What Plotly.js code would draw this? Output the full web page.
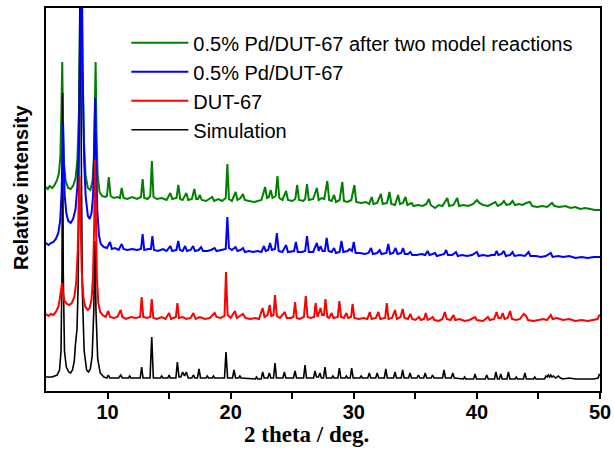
<!DOCTYPE html>
<html>
<head>
<meta charset="utf-8">
<script src="https://cdn.plot.ly/plotly-3.0.1.min.js"></script>
<style>html,body{margin:0;padding:0;background:#fff;}#chart{width:614px;height:449px;}</style>
</head>
<body>
<div id="chart"></div>
<script>
// Series names (legend labels)
const seriesNames = ["0.5% Pd/DUT-67 after two model reactions", "0.5% Pd/DUT-67", "DUT-67", "Simulation"];
const xTicks = [10, 20, 30, 40, 50];

// Simulation pattern [2theta, intensity] (offset baseline ~13)
const simulation = [[5.0,14],[5.5,14],[5.9,16],[6.1,21],[6.22,40],[6.3,120],[6.35,298],[6.4,120],[6.5,40],[6.65,24],[6.85,19],[7.0,18],[7.15,21],[7.3,30],[7.38,45],[7.44,53],[7.52,62],[7.62,110],[7.7,250],[7.78,460],[7.86,250],[7.95,100],[8.1,40],[8.3,21],[8.45,19],[8.6,22],[8.75,35],[8.88,80],[8.97,150],[9.06,80],[9.2,32],[9.4,18],[9.7,14],[9.95,13],[10.06,16],[10.18,13],[10.9,13],[11.07,16],[11.2,13],[11.7,13],[11.8,15],[11.9,13],[12.65,13],[12.77,24],[12.88,13],[13.45,13],[13.59,54],[13.72,13],[14.3,13],[14.4,15],[14.5,13],[14.9,13],[15.0,16],[15.1,13],[15.55,13],[15.67,29],[15.8,14],[15.95,14],[16.1,19],[16.25,15],[16.4,19],[16.55,13],[16.85,13],[16.97,16],[17.1,13],[17.3,13],[17.43,22],[17.55,13],[18.0,13],[18.1,15],[18.2,13],[18.5,13],[18.6,15],[18.7,13],[19.5,13],[19.62,39],[19.75,13],[20.15,13],[20.27,21],[20.4,13],[20.65,13],[20.75,15],[20.85,13],[22.0,12],[22.1,14],[22.2,12],[22.48,12],[22.6,19],[22.72,13],[23.02,13],[23.14,18],[23.26,13],[23.48,13],[23.6,28],[23.72,13],[24.24,13],[24.36,19],[24.48,13],[25.1,13],[25.23,20],[25.35,13],[25.92,13],[26.04,26],[26.16,13],[26.73,13],[26.85,20],[26.97,14],[27.13,14],[27.25,18],[27.37,13],[27.54,13],[27.66,24],[27.78,13],[28.2,13],[28.3,15],[28.4,13],[28.71,13],[28.83,23],[28.95,13],[29.3,13],[29.4,15],[29.5,13],[29.71,13],[29.83,23],[29.95,13],[30.5,13],[30.6,15],[30.7,13],[31.14,13],[31.26,18],[31.38,13],[31.78,13],[31.9,18],[32.02,13],[32.48,13],[32.6,22],[32.72,13],[33.23,13],[33.35,19],[33.47,13],[33.85,13],[33.97,21],[34.09,13],[34.45,13],[34.57,18],[34.69,13],[35.13,13],[35.25,16],[35.37,13],[35.68,13],[35.8,18],[35.92,13],[36.28,13],[36.4,16],[36.52,13],[37.21,13],[37.33,21],[37.45,13],[37.92,13],[38.04,18],[38.16,13],[38.9,12],[39.0,14],[39.1,12],[39.73,12],[39.85,17],[39.97,12],[40.68,12],[40.8,16],[40.92,12],[41.43,12],[41.55,19],[41.67,12],[41.82,12],[41.94,17],[42.06,12],[42.44,12],[42.56,19],[42.68,12],[43.1,12],[43.2,14],[43.3,12],[43.78,12],[43.9,18],[44.02,12],[44.6,12],[44.7,14],[44.8,12],[45.5,12],[45.6,15],[45.7,14],[45.8,16],[45.9,14],[46.0,16],[46.1,14],[46.2,15],[46.4,13],[46.6,15],[46.8,13],[47.0,12],[47.5,13],[48.0,12],[48.5,12],[49.0,12],[49.5,12],[49.85,13],[49.95,17],[50,15]];

// DUT-67 pattern (offset baseline ~72)
const dut67 = [[5.0,77],[5.2,75],[5.4,77],[5.6,76],[5.8,79],[6.0,84],[6.12,92],[6.22,104],[6.3,108],[6.38,98],[6.5,90],[6.7,87],[6.9,86],[7.1,88],[7.3,94],[7.45,108],[7.58,140],[7.66,185],[7.72,215],[7.8,175],[7.9,120],[8.05,92],[8.2,84],[8.4,81],[8.55,83],[8.7,92],[8.82,115],[8.92,170],[8.98,231],[9.05,180],[9.13,115],[9.25,88],[9.4,79],[9.6,76],[9.85,74],[10.06,80],[10.2,74],[10.5,73],[10.8,74],[11.07,81],[11.2,74],[11.5,72],[11.9,74],[12.3,73],[12.65,74],[12.77,94],[12.9,74],[13.2,73],[13.47,74],[13.59,92],[13.72,73],[14.0,72],[14.4,74],[14.7,72],[15.0,78],[15.15,72],[15.55,74],[15.67,88],[15.8,73],[16.1,74],[16.4,72],[16.75,73],[16.97,78],[17.15,72],[17.5,74],[17.9,72],[18.3,73],[18.7,78],[18.85,74],[19.2,73],[19.5,75],[19.62,119],[19.75,76],[20.0,73],[20.35,80],[20.5,73],[20.75,75],[21.0,77],[21.2,73],[21.6,72],[22.0,73],[22.3,72],[22.6,83],[22.75,74],[23.0,76],[23.17,86],[23.3,75],[23.48,76],[23.6,96],[23.75,75],[24.0,73],[24.4,79],[24.55,73],[24.9,73],[25.1,74],[25.23,89],[25.36,73],[25.6,72],[25.95,74],[26.1,95],[26.25,74],[26.5,73],[26.78,74],[26.9,88],[27.05,74],[27.3,83],[27.42,76],[27.58,76],[27.7,92],[27.85,74],[28.0,73],[28.2,78],[28.35,73],[28.7,74],[28.83,90],[28.97,74],[29.2,73],[29.4,78],[29.55,73],[29.78,74],[29.9,87],[30.05,73],[30.4,72],[30.8,73],[31.1,72],[31.3,79],[31.45,72],[31.8,73],[32.0,79],[32.15,72],[32.55,73],[32.68,88],[32.82,72],[33.1,73],[33.35,81],[33.5,72],[33.8,74],[33.97,82],[34.12,73],[34.4,72],[34.6,77],[34.75,72],[35.0,71],[35.3,74],[35.45,71],[35.7,72],[35.85,78],[36.0,71],[36.2,72],[36.4,74],[36.55,71],[36.9,70],[37.2,72],[37.4,79],[37.55,72],[37.85,71],[38.1,76],[38.25,71],[38.6,72],[39.0,70],[39.4,71],[39.85,74],[40.0,71],[40.5,70],[40.9,74],[41.05,71],[41.4,72],[41.6,79],[41.75,73],[41.95,73],[42.1,78],[42.25,72],[42.5,73],[42.7,80],[42.85,72],[43.2,71],[43.5,72],[43.8,77],[44.0,75],[44.15,71],[44.6,70],[45.0,71],[45.4,72],[45.7,71],[46.0,76],[46.15,72],[46.5,73],[47.0,71],[47.5,72],[48.0,70],[48.5,71],[49.0,70],[49.5,71],[49.8,72],[49.95,76],[50,75]];

// 0.5% Pd/DUT-67 pattern (offset baseline ~140)
const pdDut67 = [[5.0,148],[5.2,146],[5.4,148],[5.6,149],[5.8,152],[6.0,158],[6.15,170],[6.27,200],[6.33,240],[6.38,268],[6.44,230],[6.52,195],[6.65,178],[6.8,170],[7.0,168],[7.2,172],[7.4,182],[7.55,205],[7.68,250],[7.78,320],[7.88,470],[7.98,320],[8.1,230],[8.22,195],[8.4,175],[8.55,172],[8.7,178],[8.82,195],[8.92,240],[9.0,293],[9.07,230],[9.17,180],[9.3,156],[9.45,147],[9.7,144],[9.95,143],[10.2,149],[10.35,142],[10.6,143],[10.9,141],[11.15,147],[11.3,142],[11.6,141],[12.0,142],[12.4,141],[12.72,142],[12.85,157],[12.98,141],[13.3,142],[13.52,142],[13.64,155],[13.77,141],[14.1,140],[14.5,142],[14.8,140],[15.1,145],[15.25,140],[15.6,141],[15.74,150],[15.88,141],[16.1,140],[16.3,145],[16.45,140],[16.75,141],[16.95,145],[17.1,140],[17.4,141],[17.6,144],[17.75,140],[18.1,140],[18.4,141],[18.7,143],[18.85,140],[19.2,141],[19.6,142],[19.73,174],[19.86,143],[20.1,141],[20.4,144],[20.55,140],[20.8,141],[21.0,143],[21.15,139],[21.5,140],[21.8,139],[22.2,140],[22.5,139],[22.7,145],[22.85,140],[23.05,141],[23.2,148],[23.35,141],[23.6,142],[23.75,158],[23.9,140],[24.2,139],[24.5,146],[24.65,139],[25.0,140],[25.15,140],[25.3,149],[25.45,139],[25.8,139],[26.05,140],[26.2,155],[26.35,139],[26.7,139],[27.0,148],[27.15,140],[27.3,145],[27.45,140],[27.65,140],[27.8,153],[27.95,140],[28.2,139],[28.4,143],[28.55,138],[28.85,139],[29.0,150],[29.15,139],[29.5,140],[29.65,142],[29.85,140],[30.0,149],[30.15,138],[30.5,138],[30.9,137],[31.2,138],[31.4,143],[31.55,137],[31.9,138],[32.1,141],[32.25,137],[32.65,138],[32.8,147],[32.95,137],[33.2,138],[33.4,143],[33.55,137],[33.85,138],[34.0,143],[34.15,137],[34.4,137],[34.6,139],[34.75,136],[35.1,136],[35.5,137],[35.8,136],[36.0,140],[36.15,136],[36.4,137],[36.6,138],[36.75,135],[37.1,136],[37.35,137],[37.5,141],[37.65,136],[38.0,136],[38.3,139],[38.45,135],[38.8,136],[39.2,135],[39.6,136],[40.0,139],[40.15,135],[40.5,136],[40.9,135],[41.2,136],[41.45,136],[41.6,140],[41.75,136],[42.0,137],[42.2,140],[42.35,135],[42.7,136],[42.9,139],[43.05,135],[43.5,136],[43.9,135],[44.2,139],[44.35,135],[44.8,135],[45.2,134],[45.6,135],[46.0,138],[46.15,134],[46.6,135],[47.0,134],[47.5,135],[48.0,133],[48.5,134],[49.0,133],[49.5,134],[50,134]];

// 0.5% Pd/DUT-67 after two model reactions (offset baseline ~190)
const pdDut67After = [[5.0,204],[5.15,202],[5.3,205],[5.5,203],[5.7,206],[5.9,211],[6.05,218],[6.17,235],[6.25,280],[6.32,329],[6.38,270],[6.46,228],[6.6,210],[6.8,203],[7.0,202],[7.2,205],[7.4,213],[7.55,232],[7.68,280],[7.78,360],[7.85,470],[7.95,330],[8.08,250],[8.22,215],[8.4,203],[8.6,201],[8.78,210],[8.9,232],[8.97,270],[9.03,329],[9.1,260],[9.2,215],[9.35,199],[9.55,195],[9.8,194],[9.95,195],[10.1,214],[10.25,195],[10.5,193],[10.8,194],[11.0,193],[11.15,203],[11.3,193],[11.6,192],[12.0,194],[12.4,192],[12.72,194],[12.85,212],[12.98,193],[13.25,192],[13.47,195],[13.6,230],[13.73,194],[14.0,192],[14.4,193],[14.8,191],[15.1,198],[15.25,192],[15.6,193],[15.75,206],[15.9,192],[16.1,191],[16.4,198],[16.55,191],[16.85,192],[17.05,202],[17.2,192],[17.35,192],[17.5,196],[17.65,191],[18.0,190],[18.25,192],[18.5,194],[18.65,190],[19.0,192],[19.3,190],[19.6,193],[19.73,227],[19.86,192],[20.1,190],[20.4,199],[20.55,191],[20.8,193],[21.0,197],[21.15,191],[21.5,190],[21.9,189],[22.2,190],[22.5,191],[22.8,204],[22.95,193],[23.1,194],[23.25,201],[23.4,193],[23.65,195],[23.8,215],[23.95,193],[24.2,191],[24.5,200],[24.65,191],[25.0,190],[25.25,192],[25.4,206],[25.55,191],[25.9,190],[26.05,192],[26.2,207],[26.35,191],[26.7,192],[27.0,203],[27.15,191],[27.4,193],[27.6,192],[27.85,210],[28.0,191],[28.2,190],[28.4,196],[28.55,189],[28.85,191],[29.07,209],[29.2,190],[29.5,189],[29.8,191],[30.05,206],[30.2,189],[30.6,188],[31.0,189],[31.25,187],[31.46,194],[31.6,187],[31.9,188],[32.2,197],[32.35,187],[32.7,188],[32.9,199],[33.05,187],[33.35,186],[33.6,196],[33.75,187],[34.0,188],[34.2,194],[34.35,186],[34.7,188],[34.85,185],[35.2,186],[35.6,185],[35.9,187],[36.1,192],[36.25,186],[36.6,183],[36.9,186],[37.2,185],[37.6,193],[37.75,185],[38.1,186],[38.4,193],[38.55,185],[38.9,186],[39.3,185],[39.7,187],[40.0,191],[40.2,188],[40.5,186],[40.9,185],[41.2,187],[41.5,189],[41.7,185],[42.0,187],[42.2,190],[42.4,186],[42.7,187],[42.9,190],[43.1,186],[43.4,187],[43.7,186],[44.0,188],[44.3,189],[44.5,185],[44.9,184],[45.3,185],[45.7,184],[46.1,188],[46.3,185],[46.7,184],[47.2,185],[47.6,183],[48.0,184],[48.4,182],[48.8,183],[49.2,182],[49.6,181],[50,181]];

function mk(data, name, color, width, rank) {
  return {
    x: data.map(p => p[0]), y: data.map(p => p[1]),
    type: 'scatter', mode: 'lines', name: name, legendrank: rank,
    line: {color: color, width: width}, hoverinfo: 'skip'
  };
}

const traces = [
  mk(pdDut67After, seriesNames[0], '#008000', 2, 1),
  mk(simulation, seriesNames[3], '#000000', 1.6, 4),
  mk(pdDut67, seriesNames[1], '#0000ff', 2, 2),
  mk(dut67, seriesNames[2], '#ff0000', 2, 3)
];

const layout = {
  width: 614, height: 449,
  margin: {l: 46, r: 14, t: 8, b: 58},
  paper_bgcolor: '#fff', plot_bgcolor: '#fff',
  showlegend: true,
  legend: {
    x: 0.145, y: 0.96, xanchor: 'left', yanchor: 'top',
    bgcolor: 'rgba(0,0,0,0)', borderwidth: 0,
    itemwidth: 57,
    font: {family: 'Liberation Sans, Arial, sans-serif', size: 20, color: '#000'}
  },
  xaxis: {
    range: [5, 50], tickmode: 'array', tickvals: xTicks, ticktext: xTicks.map(String),
    ticks: 'outside', ticklen: 6, tickwidth: 2, tickcolor: '#000', ticklabelstandoff: -4,
    minor: {tickmode: 'array', tickvals: [15, 25, 35, 45], ticks: 'outside', ticklen: 6, tickwidth: 2, tickcolor: '#000'},
    showline: true, linecolor: '#000', linewidth: 2, mirror: true,
    showgrid: false, zeroline: false,
    tickfont: {family: 'Liberation Sans, Arial, sans-serif', size: 20, weight: 'bold', color: '#000'}
  },
  yaxis: {
    range: [0, 383], showticklabels: false, ticks: '',
    showline: true, linecolor: '#000', linewidth: 2, mirror: true,
    showgrid: false, zeroline: false
  },
  annotations: [
    {text: '2 theta / deg.', xref: 'paper', yref: 'paper', x: (306 - 46) / 554, y: (391 - 434.5) / 383,
     xanchor: 'center', yanchor: 'middle', showarrow: false,
     font: {family: 'Liberation Serif, Times New Roman, serif', size: 23, weight: 'bold', color: '#000'}},
    {text: 'Relative intensity', xref: 'paper', yref: 'paper', x: (21 - 46) / 554, y: (391 - 188) / 383,
     xanchor: 'center', yanchor: 'middle', showarrow: false, textangle: -90,
     font: {family: 'Liberation Sans, Arial, sans-serif', size: 20, weight: 'bold', color: '#000'}}
  ]
};

Plotly.newPlot('chart', traces, layout, {displayModeBar: false, staticPlot: true});
</script>
</body>
</html>
